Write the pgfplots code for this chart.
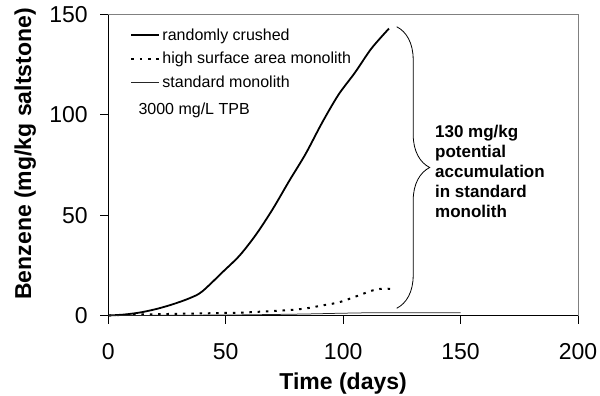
\documentclass[border=0pt]{standalone}
\usepackage{fontspec}
\setmainfont{Liberation Sans}
\usepackage{pgfplots}
\pgfplotsset{compat=1.18}
\usetikzlibrary{decorations.pathreplacing}

\begin{document}
\begin{tikzpicture}
\begin{axis}[
  width=469.7pt, height=301pt, scale only axis,
  xmin=0, xmax=200, ymin=0, ymax=150,
  xtick={0,50,100,150,200}, ytick={0,50,100,150},
  tick align=outside, major tick length=8pt,
  tick style={black, line width=0.8pt},
  axis x line*=bottom, axis y line*=left,
  axis line style={black, line width=0.8pt},
  clip=false,
  /pgf/number format/assume math mode=true,
  ticklabel style={font=\fontsize{23}{27}\selectfont},
  xticklabel style={yshift=-16pt},
  yticklabel style={xshift=-9pt},
  xlabel={Time (days)},
  ylabel={Benzene (mg/kg saltstone)},
  label style={font=\bfseries\fontsize{23}{27}\selectfont},
  xlabel style={at={(axis description cs:0.5,-0.2475)}, anchor=base},
  ylabel style={at={(axis description cs:-0.1767,0.5366)}, anchor=center},
  legend style={at={(rel axis cs:0,1)}, anchor=north west, xshift=19pt, yshift=-10pt,
    draw=none, fill=none, font=\fontsize{16}{19}\selectfont, row sep=6.5pt,
    nodes={inner xsep=2pt}},
  legend cell align=left,
  legend image code/.code={\draw[#1] (0pt,0pt) -- (28pt,0pt);},
]
\addplot[black, line width=1.8pt, smooth, tension=0.5] coordinates {
(0,0) (7,0.5) (14,1.6) (21,3.4) (28,5.8) (35,8.8) (40,12) (49,22) (56,30) (63,40.5)
(70,53) (77,67) (84,80.5) (91,96) (98,110) (105,121) (112,133) (119.5,143)};
\addlegendentry{randomly crushed}
\addplot[black, line width=2pt, dash pattern=on 2.5pt off 5.8pt, smooth, tension=0.5] coordinates {
(0,0) (14,0.5) (28,0.8) (42,1.1) (56,1.4) (63,1.8) (70,2.2) (77,2.7) (84,3.5) (91,5)
(98,6.5) (105,9.3) (112,12.3) (116,13.3) (120,13.3)};
\addlegendentry{high surface area monolith}
\addplot[black!85, line width=0.75pt] coordinates {
(0,0) (28,0.1) (56,0.3) (70,0.5) (84,0.75) (98,1.1) (112,1.4) (150,1.4)};
\addlegendentry{standard monolith}
\draw[gray, line width=0.8pt] (rel axis cs:0,1) -- (rel axis cs:1,1) -- (rel axis cs:1,0);
\draw[decorate, decoration={brace, amplitude=33pt}, line width=0.8pt]
  (axis cs:122.8,143.9) -- (axis cs:122.8,3.6);
\node[anchor=west, inner sep=0pt, align=left, font=\bfseries\fontsize{17}{20}\selectfont]
  at (axis cs:139.1,71.7) {130 mg/kg\\potential\\accumulation\\in standard\\monolith};
\node[anchor=west, inner sep=0pt, font=\fontsize{16}{19}\selectfont]
  at (axis cs:12.8,102) {3000 mg/L TPB};
\coordinate (bbsw) at (rel axis cs:0,0);
\coordinate (bbne) at (rel axis cs:1,1);
\end{axis}
\pgfresetboundingbox
\path ([shift={(-108.3pt,-80.5pt)}]bbsw) rectangle ([shift={(22pt,14.5pt)}]bbne);
\end{tikzpicture}
\end{document}
